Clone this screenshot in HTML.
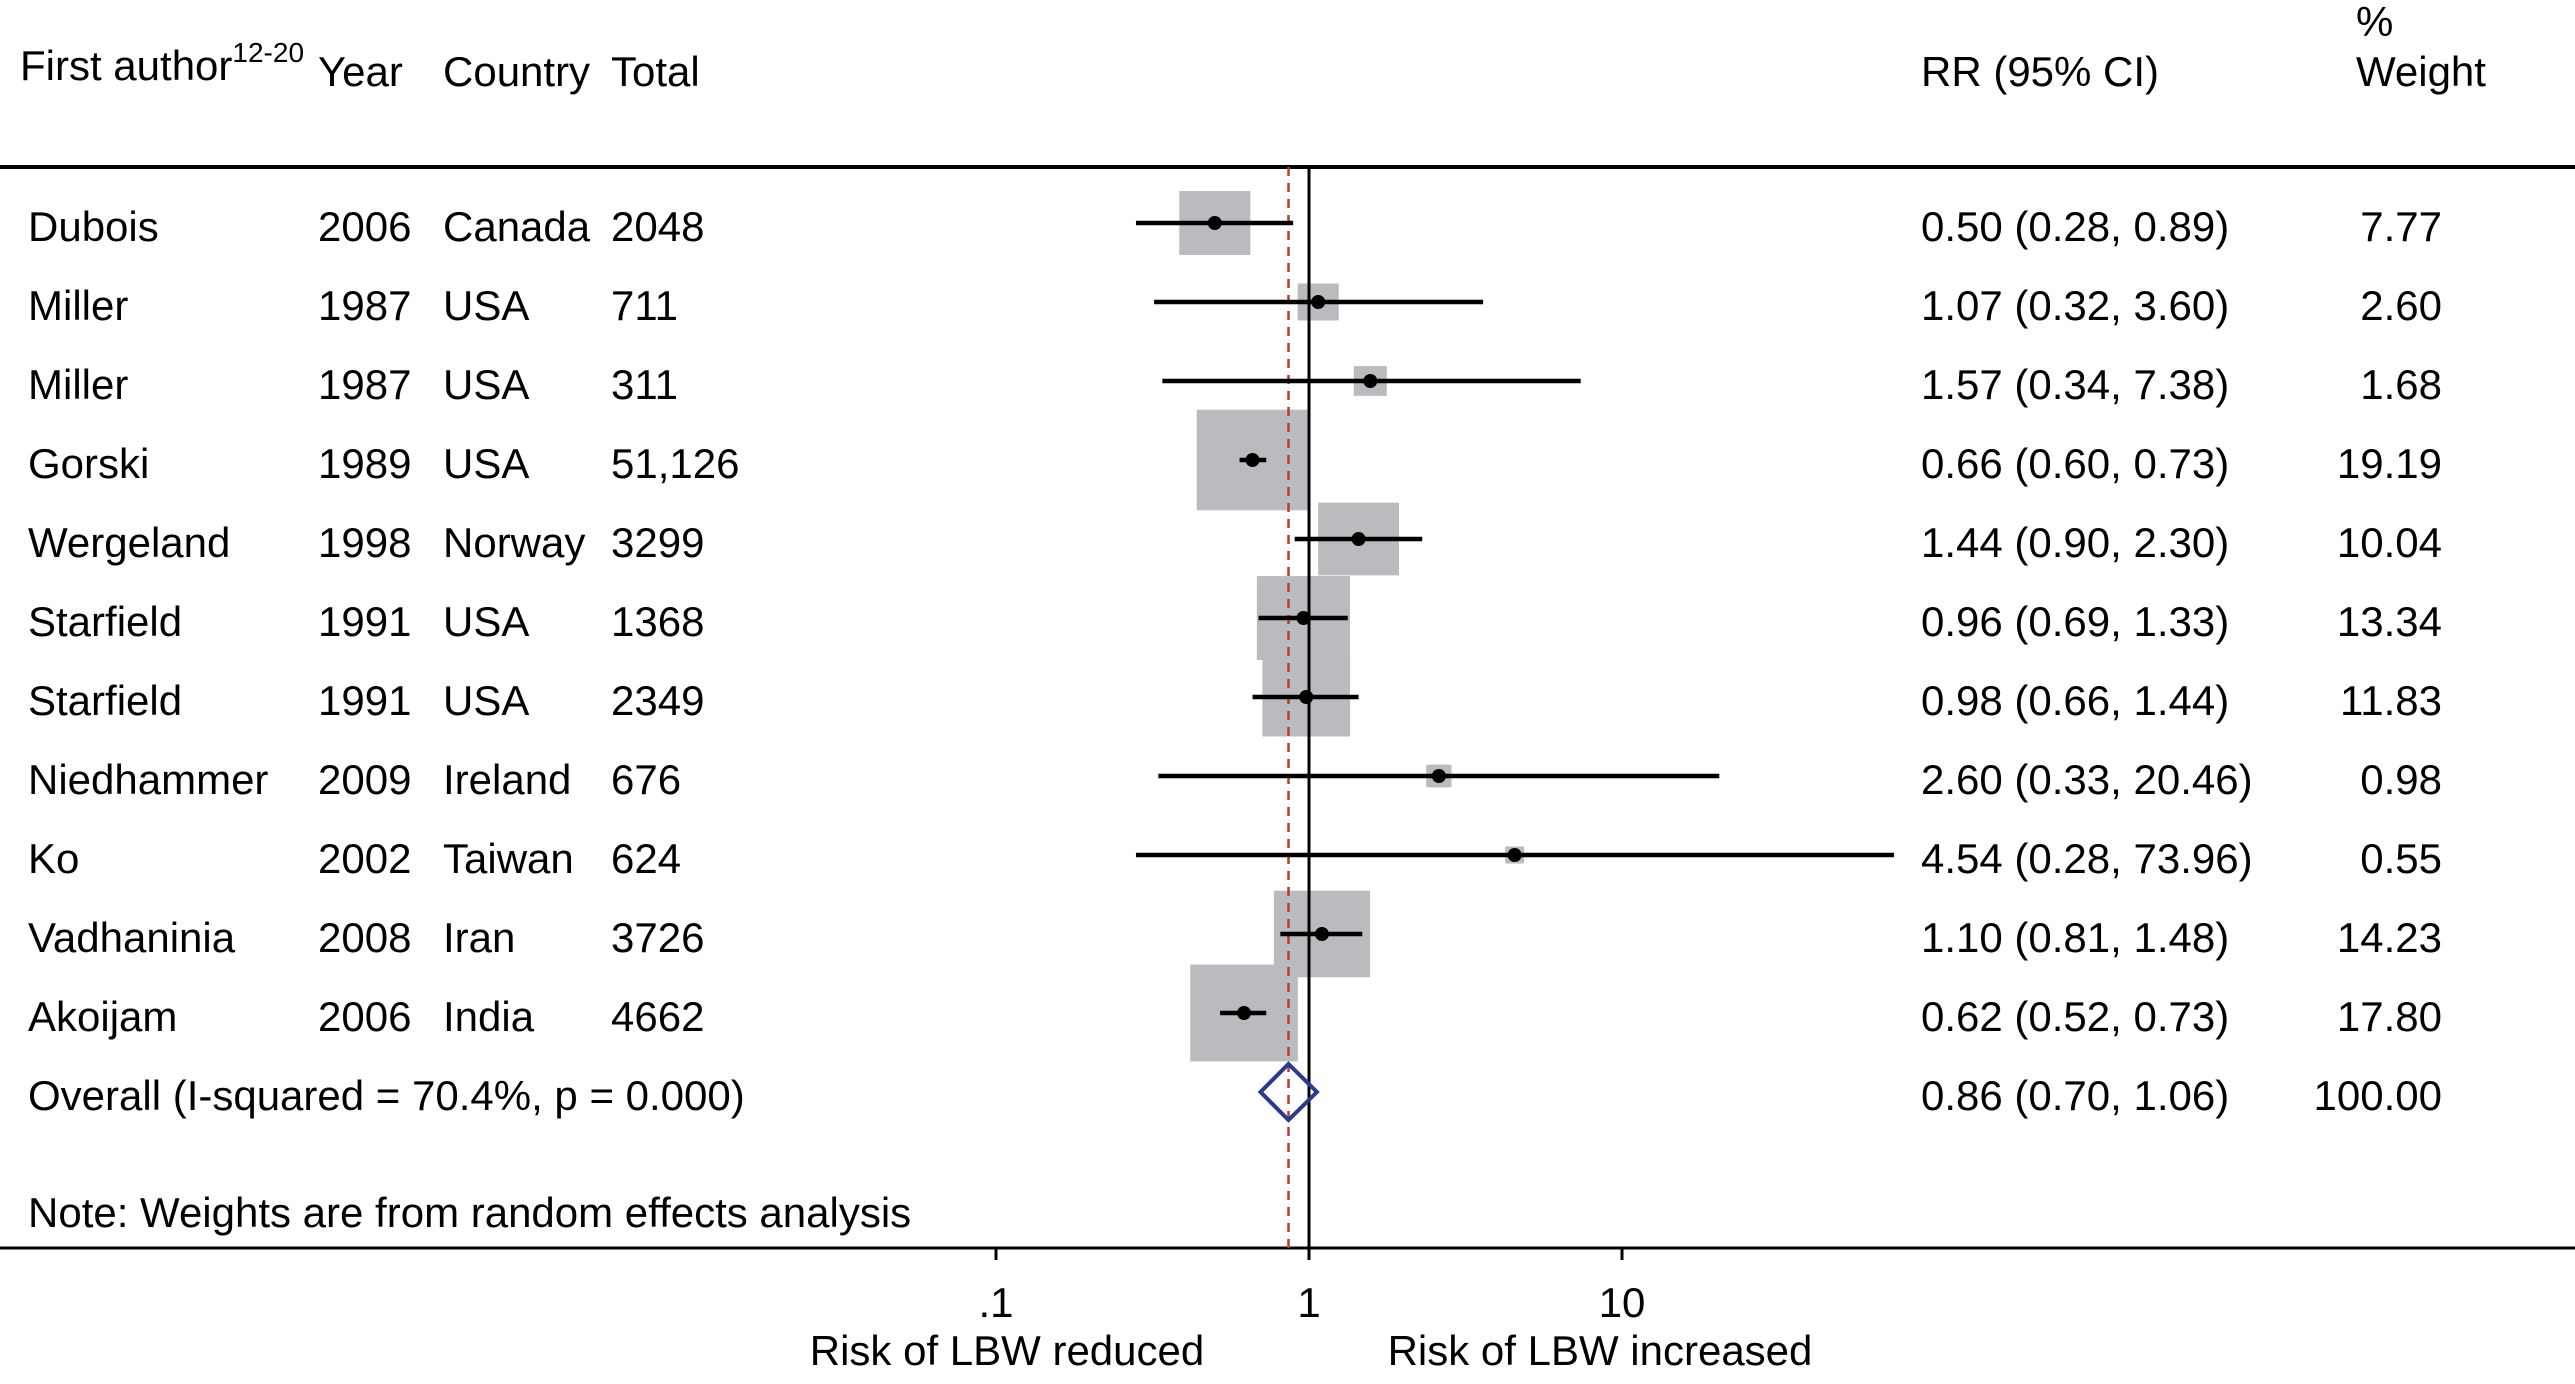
<!DOCTYPE html>
<html><head><meta charset="utf-8"><style>
html,body{margin:0;padding:0;background:#fff}
svg{display:block}
text{font-family:"Liberation Sans",Arial,sans-serif;font-size:42px;fill:#000}
</style></head><body>
<svg id="chart" width="2575" height="1384" viewBox="0 0 2575 1384" xmlns="http://www.w3.org/2000/svg">
<g>
<text x="20" y="80">First author<tspan font-size="28" dy="-18">12-20</tspan></text>
<text x="318" y="86">Year</text>
<text x="443" y="86">Country</text>
<text x="611" y="86">Total</text>
<text x="1921" y="86">RR (95% CI)</text>
<text x="2356" y="36">%</text>
<text x="2356" y="86">Weight</text>
</g>
<line x1="0" y1="167" x2="2575" y2="167" stroke="#000" stroke-width="4"/>
<line x1="0" y1="1248" x2="2575" y2="1248" stroke="#000" stroke-width="3"/>
<g id="marks"></g>
<text x="28" y="1227">Note: Weights are from random effects analysis</text>
<text x="1007" y="1365" text-anchor="middle">Risk of LBW reduced</text>
<text x="1600" y="1365" text-anchor="middle">Risk of LBW increased</text>
</svg>
<script>
const authors=["Dubois","Miller","Miller","Gorski","Wergeland","Starfield","Starfield","Niedhammer","Ko","Vadhaninia","Akoijam"];
const years=["2006","1987","1987","1989","1998","1991","1991","2009","2002","2008","2006"];
const countries=["Canada","USA","USA","USA","Norway","USA","USA","Ireland","Taiwan","Iran","India"];
const totals=["2048","711","311","51,126","3299","1368","2349","676","624","3726","4662"];
const rr=[0.50,1.07,1.57,0.66,1.44,0.96,0.98,2.60,4.54,1.10,0.62];
const lo=[0.28,0.32,0.34,0.60,0.90,0.69,0.66,0.33,0.28,0.81,0.52];
const hi=[0.89,3.60,7.38,0.73,2.30,1.33,1.44,20.46,73.96,1.48,0.73];
const weights=[7.77,2.60,1.68,19.19,10.04,13.34,11.83,0.98,0.55,14.23,17.80];
const overall=[0.86,0.70,1.06];
const overallWeight="100.00";
const overallLabel="Overall (I-squared = 70.4%, p = 0.000)";
const ticks=[0.1,1,10];
const tickLabels=[".1","1","10"];

const NS="http://www.w3.org/2000/svg";
const g=document.getElementById('marks');
const X0=1309, DEC=313;
function xs(v){return X0+DEC*Math.log10(v);}
const rowTop=223, rowStep=79.0;
function ys(i){return rowTop+rowStep*i;}
function mk(tag,attrs,parent){const e=document.createElementNS(NS,tag);for(const k in attrs)e.setAttribute(k,attrs[k]);(parent||g).appendChild(e);return e;}
function txt(x,y,s,anchor){const t=mk('text',{x:x,y:y});if(anchor)t.setAttribute('text-anchor',anchor);t.textContent=s;return t;}
function f2(v){return v.toFixed(2);}

authors.forEach((a,i)=>{
  const y=ys(i);
  const side=25.5*Math.sqrt(weights[i]);
  const h=side*0.9;
  const box=mk('rect',{x:xs(rr[i])-side/2,y:y-h/2,width:side,height:h,fill:'#b9bbbe'});
  
  
});
const vl=mk('line',{x1:X0,y1:167,x2:X0,y2:1248,stroke:'#000','stroke-width':3});


const dl=mk('line',{x1:xs(overall[0]),y1:167,x2:xs(overall[0]),y2:1248,stroke:'#c0392b','stroke-width':2.5,'stroke-dasharray':'9,7'});



authors.forEach((a,i)=>{
  const y=ys(i), b=y+18;
  const ci=mk('line',{x1:xs(lo[i]),y1:y,x2:xs(hi[i]),y2:y,stroke:'#000','stroke-width':4.5});
  
  
  const d=mk('circle',{cx:xs(rr[i]),cy:y,r:7,fill:'#000'});
  
  
  let t;
  t=txt(28,b,a);
  
  
  t=txt(318,b,years[i]);
  
  
  t=txt(443,b,countries[i]);
  
  
  t=txt(611,b,totals[i]);
  
  
  t=txt(1921,b,f2(rr[i])+" ("+f2(lo[i])+", "+f2(hi[i])+")");
  
  
  t=txt(2442,b,f2(weights[i]),'end');
  
  
});
const oy=ys(authors.length);
const dm=mk('polygon',{points:[xs(overall[1])+','+oy,xs(overall[0])+','+(oy-28),xs(overall[2])+','+oy,xs(overall[0])+','+(oy+28)].join(' '),fill:'none',stroke:'#2b3990','stroke-width':4});


let t=txt(28,oy+18,overallLabel);


t=txt(1921,oy+18,f2(overall[0])+" ("+f2(overall[1])+", "+f2(overall[2])+")");


t=txt(2442,oy+18,overallWeight,'end');


ticks.forEach((v,i)=>{
  const tk=mk('line',{x1:xs(v),y1:1248,x2:xs(v),y2:1260,stroke:'#000','stroke-width':3});
  
  
  const tl=txt(xs(v),1317,tickLabels[i],'middle');
  
  
});
</script>
</body></html>
